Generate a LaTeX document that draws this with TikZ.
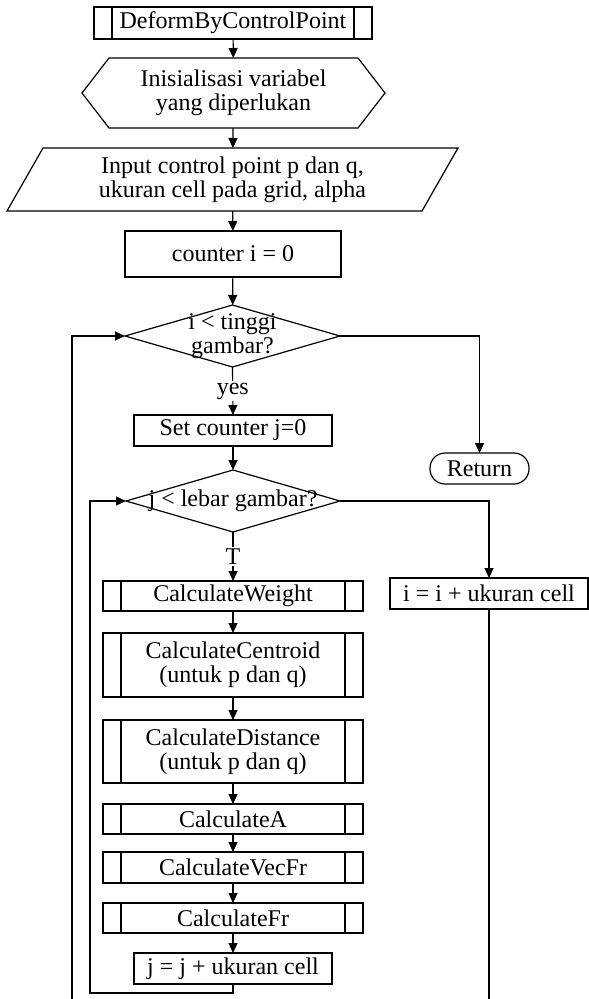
\documentclass[tikz,border=0pt]{standalone}
\usepackage{fontspec}
\setmainfont{Liberation Serif}
\usetikzlibrary{arrows.meta}
\begin{document}
\begin{tikzpicture}[x=1pt,y=1pt,
  every node/.style={font=\fontsize{24}{24}\selectfont, inner sep=0pt, outer sep=0pt, align=center},
  ln/.style={line width=1.2pt},
  arr/.style={ln,-{Triangle[length=10pt,width=9pt]}},
  proc/.style={draw, ln, rectangle},
  sub/.style={draw, ln, rectangle,
    path picture={
      \draw[ln] ([xshift=18pt]path picture bounding box.north west) -- ([xshift=18pt]path picture bounding box.south west);
      \draw[ln] ([xshift=-18pt]path picture bounding box.north east) -- ([xshift=-18pt]path picture bounding box.south east);}},
  shp/.style={rectangle},
  term/.style={draw, ln, rounded corners=15pt},
  lbl/.style={fill=white, inner sep=2pt}
]
\useasboundingbox (0,0) rectangle (589,-999);

\node[sub, minimum width=278pt, minimum height=32pt] (start) at (233,-23) {DeformByControlPoint};
\node[shp, minimum width=303pt, minimum height=70pt] (init) at (233.5,-93) {Inisialisasi variabel\\yang diperlukan};
\node[shp, minimum width=451pt, minimum height=63pt] (input) at (232.5,-179.5) {Input control point p dan q,\\ukuran cell pada grid, alpha};
\node[proc, minimum width=216pt, minimum height=46pt] (ci) at (233,-254) {counter i = 0};
\node[shp, minimum width=215pt, minimum height=62pt] (d1) at (232.5,-336) {i < tinggi\\gambar?};
\node[proc, minimum width=198pt, minimum height=31pt] (sj) at (233,-430.5) {Set counter j=0};
\node[shp, minimum width=214pt, minimum height=62pt] (d2) at (233,-501) {j < lebar gambar?};
\node[sub, minimum width=260pt, minimum height=30pt] (cw) at (233,-596) {CalculateWeight};
\node[sub, minimum width=260pt, minimum height=64pt] (cc) at (233,-665) {CalculateCentroid\\(untuk p dan q)};
\node[sub, minimum width=260pt, minimum height=63pt] (cd) at (233,-751.5) {CalculateDistance\\(untuk p dan q)};
\node[sub, minimum width=260pt, minimum height=30pt] (ca) at (233,-819) {CalculateA};
\node[sub, minimum width=260pt, minimum height=31pt] (cv) at (233,-867.5) {CalculateVecFr};
\node[sub, minimum width=260pt, minimum height=30pt] (cf) at (233,-918) {CalculateFr};
\node[proc, minimum width=198pt, minimum height=31pt] (jj) at (233,-968.5) {j = j + ukuran cell};
\node[term, minimum width=99pt, minimum height=31pt] (ret) at (479.5,-468.5) {Return};
\node[proc, minimum width=198pt, minimum height=31pt] (ii) at (489,-593.5) {i = i + ukuran cell};

% outlines of special shapes
\draw[ln] ([xshift=27pt]init.north west) -- ([xshift=-27pt]init.north east) -- (init.east)
  -- ([xshift=-27pt]init.south east) -- ([xshift=27pt]init.south west) -- (init.west) -- cycle;
\draw[ln] ([xshift=36pt]input.north west) -- (input.north east) -- ([xshift=-36pt]input.south east)
  -- (input.south west) -- cycle;
\draw[ln] (d1.north) -- (d1.east) -- (d1.south) -- (d1.west) -- cycle;
\draw[ln] (d2.north) -- (d2.east) -- (d2.south) -- (d2.west) -- cycle;

\coordinate (bl) at (72,-999);
\coordinate (br) at (489,-999);
\coordinate (jl) at (90,-993);

% connectors
\draw[arr] (start) -- (init);
\draw[arr] (init) -- (input);
\draw[arr] (input) -- (ci);
\draw[arr] (ci) -- (d1);
\draw[arr] (d1.south) -- node[lbl] {yes} (sj.north);
\draw[arr] (sj) -- (d2);
\draw[arr] (d2.south) -- node[lbl] {T} (cw.north);
\draw[arr] (cw) -- (cc);
\draw[arr] (cc) -- (cd);
\draw[arr] (cd) -- (ca);
\draw[arr] (ca) -- (cv);
\draw[arr] (cv) -- (cf);
\draw[arr] (cf) -- (jj);
\draw[arr] (jj.south) -- (jj.south |- jl) -- (jl) |- (d2.west);
\draw[arr] (d1.east) -| (ret.north);
\draw[arr] (d2.east) -| (ii.north);
\draw[ln] (ii.south) -- (br);
\draw[arr] (bl) |- (d1.west);
\end{tikzpicture}
\end{document}
